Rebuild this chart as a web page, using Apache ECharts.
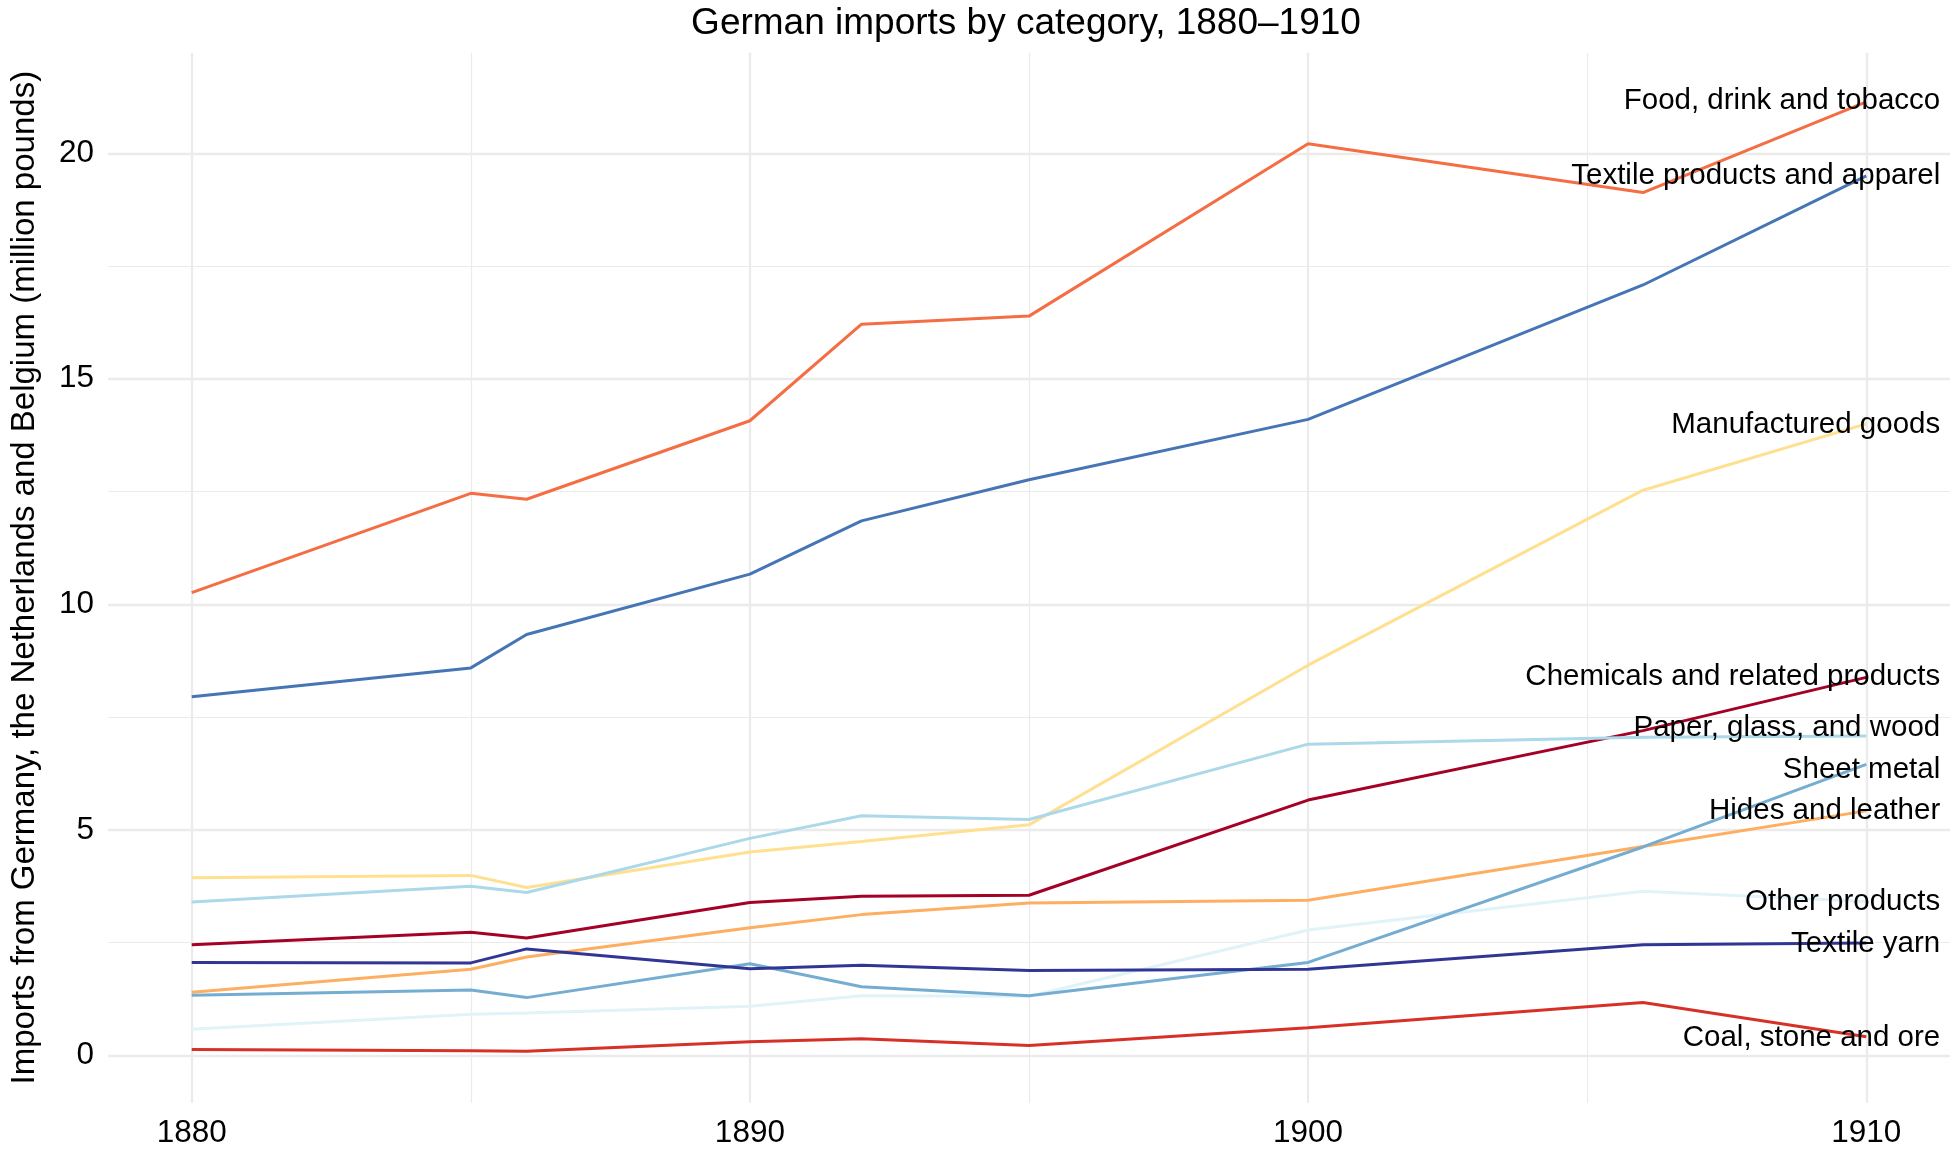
<!DOCTYPE html>
<html><head><meta charset="utf-8">
<script src="https://cdn.jsdelivr.net/npm/echarts@6/dist/echarts.min.js"></script>
<style>html,body{margin:0;padding:0;background:#fff}#c{width:1951px;height:1159px}</style>
</head><body><div id="c"></div>
<script>
const years = [1880, 1885, 1886, 1890, 1892, 1895, 1900, 1906, 1910];
const categories = ['Chemicals and related products', 'Coal, stone and ore', 'Food, drink and tobacco',
  'Hides and leather', 'Manufactured goods', 'Other products', 'Paper, glass, and wood',
  'Sheet metal', 'Textile products and apparel', 'Textile yarn'];
const chemicals = [2.45, 2.73, 2.60, 3.39, 3.53, 3.55, 5.66, 7.20, 8.38];
const coal = [0.13, 0.10, 0.09, 0.30, 0.37, 0.22, 0.61, 1.17, 0.41];
const food = [10.26, 12.46, 12.33, 14.07, 16.21, 16.39, 20.21, 19.13, 21.14];
const hides = [1.40, 1.91, 2.18, 2.83, 3.12, 3.38, 3.44, 4.63, 5.42];
const manufactured = [3.94, 3.99, 3.72, 4.51, 4.74, 5.11, 8.65, 12.53, 14.00];
const other = [0.58, 0.91, 0.94, 1.09, 1.32, 1.31, 2.78, 3.64, 3.41];
const paper = [3.40, 3.75, 3.61, 4.81, 5.31, 5.23, 6.90, 7.05, 7.08];
const sheetMetal = [1.33, 1.45, 1.28, 2.03, 1.52, 1.32, 2.06, 4.62, 6.45];
const textileProducts = [7.95, 8.59, 9.33, 10.67, 11.85, 12.76, 14.10, 17.08, 19.50];
const textileYarn = [2.06, 2.05, 2.36, 1.92, 2.00, 1.88, 1.91, 2.45, 2.49];
const labelValues = [8.39, 0.39, 21.16, 5.42, 13.98, 3.41, 7.25, 6.33, 19.50, 2.48];
const xTicks = [1880, 1890, 1900, 1910];
const xMinor = [1885, 1895, 1905];
const yTicks = [0, 5, 10, 15, 20];
const yMinor = [2.5, 7.5, 12.5, 17.5];

const seriesValues = [chemicals, coal, food, hides, manufactured, other, paper, sheetMetal, textileProducts, textileYarn];
const colors = ['#a50026', '#d73027', '#f46d43', '#fdae61', '#fee090', '#e0f3f8', '#abd9e9', '#74add1', '#4575b4', '#313695'];
const FONT = '"Liberation Sans", Arial, Helvetica, sans-serif';
const labelYear = years[years.length - 1];

const chart = echarts.init(document.getElementById('c'), null, {renderer: 'canvas'});
const gridColor = '#ebebeb';
const series = categories.map((name, i) => ({
  name, type: 'line', xAxisIndex: 0, yAxisIndex: 0,
  data: years.map((y, j) => [y, seriesValues[i][j]]),
  showSymbol: false, symbol: 'none', clip: false,
  lineStyle: {color: colors[i], width: 3},
  itemStyle: {color: colors[i]},
  z: 2 + i * 0.01
}));
series.push({
  type: 'scatter', xAxisIndex: 0, yAxisIndex: 0,
  data: categories.map((name, i) => ({value: [labelYear, labelValues[i]], name})),
  symbolSize: 0.1, itemStyle: {color: 'rgba(0,0,0,0)', opacity: 1}, z: 10, silent: true,
  label: {show: true, position: 'left', distance: 0, align: 'right', verticalAlign: 'middle',
    offset: [74, 0], formatter: p => p.name, color: '#000', opacity: 1, fontSize: 29.5, fontFamily: FONT,
    textBorderWidth: 0}
});

chart.setOption({
  animation: false,
  backgroundColor: '#fff',
  title: {text: 'German imports by category, 1880\u20131910', left: 1026, top: 5, padding: 0, textAlign: 'center',
    textStyle: {fontSize: 37, fontWeight: 'normal', color: '#000', fontFamily: FONT}},
  grid: {left: 103, right: 1, top: 52.7, bottom: 56.3, containLabel: false},
  xAxis: [
    {type: 'value', min: 1878.5, max: 1911.5,
      axisLine: {show: false}, axisTick: {show: false, customValues: xTicks},
      axisLabel: {customValues: xTicks, formatter: v => String(v), fontSize: 31.5, color: '#000', margin: 15, fontFamily: FONT},
      splitLine: {show: true, lineStyle: {color: gridColor, width: 2.3}}},
    {type: 'value', min: 1878.5, max: 1911.5, position: 'bottom',
      axisLine: {show: false}, axisTick: {show: false, customValues: xMinor},
      axisLabel: {show: false, customValues: xMinor},
      splitLine: {show: true, lineStyle: {color: gridColor, width: 1.2}}}
  ],
  yAxis: [
    {type: 'value', min: -1.05, max: 22.23,
      name: 'Imports from Germany, the Netherlands and Belgium (million pounds)',
      nameLocation: 'middle', nameRotate: 90, nameGap: 67,
      nameTextStyle: {fontSize: 33, color: '#000', fontFamily: FONT},
      axisLine: {show: false}, axisTick: {show: false, customValues: yTicks},
      axisLabel: {customValues: yTicks, formatter: v => String(v), fontSize: 31.5, color: '#000', margin: 14, fontFamily: FONT},
      splitLine: {show: true, lineStyle: {color: gridColor, width: 2.3}}},
    {type: 'value', min: -1.05, max: 22.23, position: 'left',
      axisLine: {show: false}, axisTick: {show: false, customValues: yMinor},
      axisLabel: {show: false, customValues: yMinor},
      splitLine: {show: true, lineStyle: {color: gridColor, width: 1.2}}}
  ],
  series
});
</script></body></html>
